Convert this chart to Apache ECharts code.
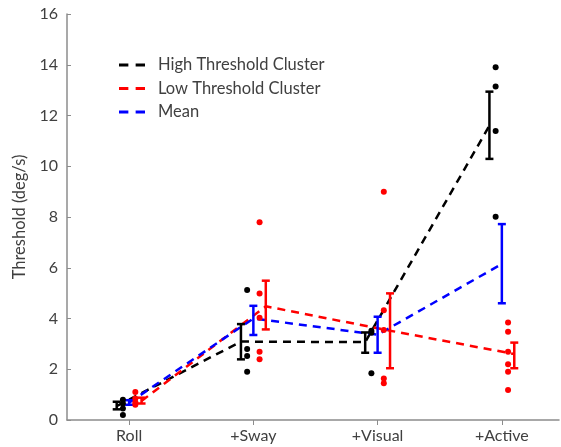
<!DOCTYPE html>
<html>
<head>
<meta charset="utf-8">
<script src="https://cdn.jsdelivr.net/npm/echarts@6/dist/echarts.min.js"></script>
<style>
  html, body { margin: 0; padding: 0; background: #fff; }
  #myChart { width: 561px; height: 447px; }
</style>
</head>
<body>
<div id="myChart"></div>
<script>
var categories = ["Roll", "+Sway", "+Visual", "+Active"];

// high threshold cluster
var highMean = [0.55, 3.09, 3.07, 11.6];
var highLow = [0.42, 2.39, 2.65, 10.29];
var highHigh = [0.72, 3.78, 3.45, 12.94];
var highPoints = [
  [0.8, 0.65, 0.45, 0.2],
  [5.12, 2.8, 2.52, 1.9],
  [3.52, 3.44, 1.84],
  [13.9, 13.14, 11.39, 8.01]
];

// low threshold cluster
var lowMean = [0.75, 4.48, 3.52, 2.6];
var lowLow = [0.65, 3.57, 2.04, 2.04];
var lowHigh = [0.88, 5.49, 4.99, 3.05];
var lowPoints = [
  [1.1, 0.85, 0.7, 0.6],
  [7.79, 4.99, 4.03, 2.69, 2.39],
  [9.0, 4.33, 3.55, 1.64, 1.45],
  [3.84, 3.48, 2.69, 2.2, 1.9, 1.18]
];

// mean of all
var allMean = [0.68, 4.0, 3.36, 6.15];
var allLow = [0.6, 3.35, 2.65, 4.6];
var allHigh = [0.78, 4.5, 4.07, 7.72];

var textColor = "#404040";
var axisColor = "#8c8c8c";
var fontFamily = "Lato, 'Open Sans', sans-serif";
var dashIcon = "path://M0,0h9v3h-9z M16,0h9v3h-9z";

function lineData(means, off) {
  return means.map(function (v, i) { return [i + off, v]; });
}
function barData(lows, highs, off) {
  return lows.map(function (v, i) { return [i + off, v, highs[i]]; });
}
function pointData(points, off) {
  var out = [];
  points.forEach(function (arr, i) {
    arr.forEach(function (v) { out.push([i + off, v]); });
  });
  return out;
}
function errorBar(color) {
  return function (params, api) {
    var x = api.value(0);
    var top = api.coord([x, api.value(2)]);
    var bot = api.coord([x, api.value(1)]);
    var w = 4;
    var style = { stroke: color, lineWidth: 2.5 };
    return {
      type: "group",
      children: [
        { type: "line", shape: { x1: top[0], y1: top[1], x2: bot[0], y2: bot[1] }, style: style },
        { type: "line", shape: { x1: top[0] - w, y1: top[1], x2: top[0] + w, y2: top[1] }, style: style },
        { type: "line", shape: { x1: bot[0] - w, y1: bot[1], x2: bot[0] + w, y2: bot[1] }, style: style }
      ]
    };
  };
}
function dashed(name, color, means, off) {
  return {
    name: name,
    type: "line",
    data: lineData(means, off),
    symbol: "none",
    lineStyle: { color: color, width: 2.5, type: [8, 6] },
    itemStyle: { color: color },
    z: 2
  };
}
function bars(color, lows, highs, off) {
  return {
    type: "custom",
    data: barData(lows, highs, off),
    renderItem: errorBar(color),
    z: 3
  };
}
function dots(color, points, off) {
  return {
    type: "scatter",
    data: pointData(points, off),
    symbolSize: 6,
    itemStyle: { color: color, opacity: 1 },
    z: 4
  };
}

var myChart = echarts.init(document.getElementById("myChart"));
var option = {
  animation: false,
  textStyle: { fontFamily: fontFamily },
  grid: { left: 67, right: 2, top: 14, bottom: 27 },
  legend: {
    orient: "vertical",
    left: 114,
    top: 51,
    icon: dashIcon,
    itemWidth: 26,
    itemHeight: 14,
    itemGap: 5.5,
    textStyle: { color: textColor, fontSize: 16.5, lineHeight: 18, fontFamily: fontFamily, padding: [0, 0, 0, 8] },
    data: ["High Threshold Cluster", "Low Threshold Cluster", "Mean"]
  },
  xAxis: {
    type: "value",
    min: -0.5,
    max: 3.46,
    splitLine: { show: false },
    axisLine: { onZero: false, lineStyle: { color: axisColor, width: 1.5 } },
    axisTick: { show: true, inside: false, length: 5, customValues: [0, 1, 2, 3], lineStyle: { color: axisColor } },
    axisLabel: {
      customValues: [0, 1, 2, 3],
      color: textColor,
      fontSize: 16,
      margin: 8,
      formatter: function (v) { return categories[Math.round(v)] || ""; }
    }
  },
  yAxis: {
    type: "value",
    min: 0,
    max: 16,
    interval: 2,
    name: "Threshold (deg/s)",
    nameLocation: "middle",
    nameRotate: 90,
    nameGap: 35,
    nameTextStyle: { color: textColor, fontSize: 16.5, fontFamily: fontFamily },
    splitLine: { show: false },
    axisLine: { show: true, onZero: false, lineStyle: { color: axisColor, width: 1.5 } },
    axisTick: { show: true, inside: true, length: 4, lineStyle: { color: axisColor } },
    axisLabel: { color: textColor, fontSize: 16, margin: 9 }
  },
  series: [
    dashed("High Threshold Cluster", "#000000", highMean, -0.1),
    dashed("Low Threshold Cluster", "#ff0000", lowMean, 0.1),
    dashed("Mean", "#0000ff", allMean, 0),
    bars("#000000", highLow, highHigh, -0.1),
    bars("#ff0000", lowLow, lowHigh, 0.1),
    bars("#0000ff", allLow, allHigh, 0),
    dots("#000000", highPoints, -0.05),
    dots("#ff0000", lowPoints, 0.05)
  ]
};
myChart.setOption(option);
</script>
</body>
</html>
